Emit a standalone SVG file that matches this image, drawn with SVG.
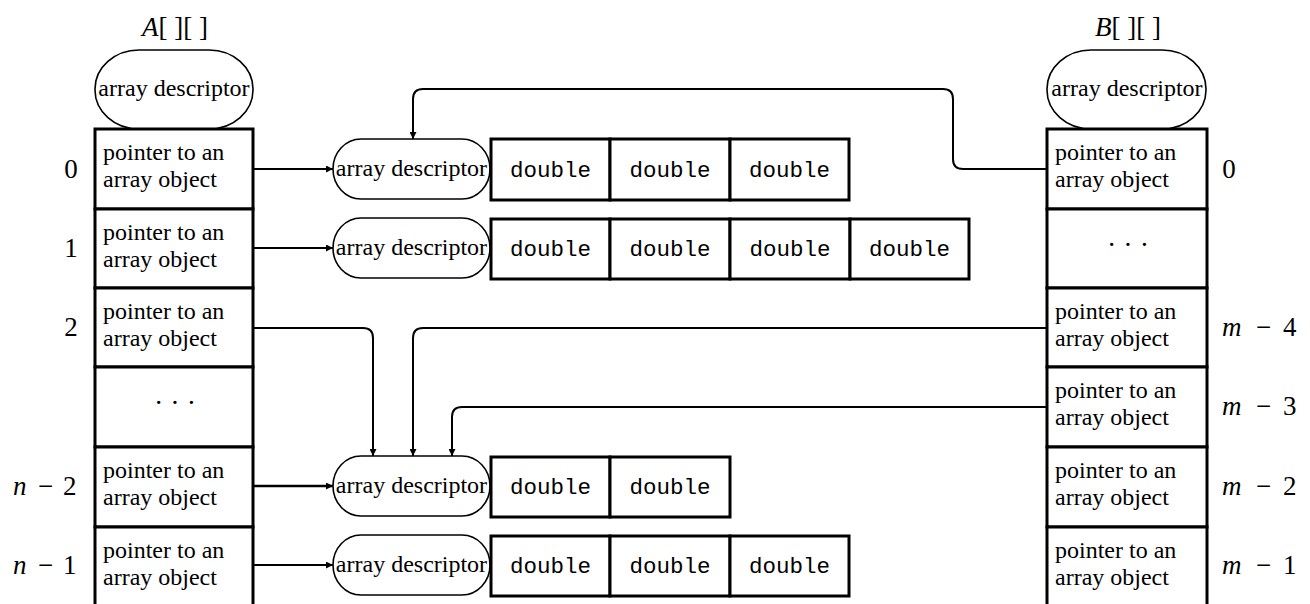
<svg xmlns="http://www.w3.org/2000/svg" width="1310" height="604" viewBox="0 0 1310 604">
<style>
.cell{fill:#fff;stroke:#000;stroke-width:3}
.desc{fill:#fff;stroke:#000;stroke-width:1.6}
.t,.tc,.lbl,.lc,.dots{font-family:"Liberation Serif","Times New Roman",Tinos,"DejaVu Serif",serif;fill:#000}
.t,.tc{font-size:24px}
.tc,.lc,.dots{text-anchor:middle}
.lbl,.lc{font-size:27px}
.dots{font-size:28px}
.mono{font-family:"Liberation Mono","Courier New",Cousine,"DejaVu Sans Mono",monospace;font-size:22.5px;fill:#000;text-anchor:middle}
.conn{fill:none;stroke:#000;stroke-width:2;marker-end:url(#ah)}
.it{font-style:italic}
</style>
<defs>
<marker id="ah" viewBox="0 0 10 10" refX="10" refY="5" markerUnits="userSpaceOnUse" markerWidth="10" markerHeight="7" orient="auto">
<path d="M0,0 L10,5 L0,10 z" fill="#000"/>
</marker>
</defs>

<!-- Titles -->
<text class="lc" x="175" y="36"><tspan class="it">A</tspan>[ ][ ]</text>
<text class="lc" x="1128" y="36"><tspan class="it">B</tspan>[ ][ ]</text>

<!-- A array -->
<g id="A-desc"><rect class="desc" x="95" y="50" width="158" height="79" rx="44" ry="39"/><text class="tc" x="174" y="96">array descriptor</text></g>
<g id="A-0"><rect class="cell" x="95" y="129" width="158" height="80"/><text class="t" x="103" y="160">pointer to an</text><text class="t" x="103" y="187">array object</text><text class="lc" x="71" y="178">0</text></g>
<g id="A-1"><rect class="cell" x="95" y="209" width="158" height="79"/><text class="t" x="103" y="240">pointer to an</text><text class="t" x="103" y="267">array object</text><text class="lc" x="71" y="257">1</text></g>
<g id="A-2"><rect class="cell" x="95" y="288" width="158" height="79"/><text class="t" x="103" y="319">pointer to an</text><text class="t" x="103" y="346">array object</text><text class="lc" x="71" y="336">2</text></g>
<g id="A-dots"><rect class="cell" x="95" y="367" width="158" height="80"/><text class="dots" x="175" y="412">· · ·</text></g>
<g id="A-n2"><rect class="cell" x="95" y="447" width="158" height="80"/><text class="t" x="103" y="478">pointer to an</text><text class="t" x="103" y="505">array object</text><text class="lbl" y="495"><tspan class="it" x="13">n</tspan><tspan x="38">−</tspan><tspan x="63">2</tspan></text></g>
<g id="A-n1"><rect class="cell" x="95" y="527" width="158" height="82"/><text class="t" x="103" y="558">pointer to an</text><text class="t" x="103" y="585">array object</text><text class="lbl" y="574"><tspan class="it" x="13">n</tspan><tspan x="38">−</tspan><tspan x="63">1</tspan></text></g>

<!-- B array -->
<g id="B-desc"><rect class="desc" x="1047" y="50" width="159" height="79" rx="44" ry="39"/><text class="tc" x="1127" y="96">array descriptor</text></g>
<g id="B-0"><rect class="cell" x="1047" y="129" width="160" height="80"/><text class="t" x="1055" y="160">pointer to an</text><text class="t" x="1055" y="187">array object</text><text class="lc" x="1229" y="178">0</text></g>
<g id="B-dots"><rect class="cell" x="1047" y="209" width="160" height="79"/><text class="dots" x="1128" y="254">· · ·</text></g>
<g id="B-m4"><rect class="cell" x="1047" y="288" width="160" height="79"/><text class="t" x="1055" y="319">pointer to an</text><text class="t" x="1055" y="346">array object</text><text class="lbl" y="336"><tspan class="it" x="1222">m</tspan><tspan x="1256">−</tspan><tspan x="1283">4</tspan></text></g>
<g id="B-m3"><rect class="cell" x="1047" y="367" width="160" height="80"/><text class="t" x="1055" y="398">pointer to an</text><text class="t" x="1055" y="425">array object</text><text class="lbl" y="415"><tspan class="it" x="1222">m</tspan><tspan x="1256">−</tspan><tspan x="1283">3</tspan></text></g>
<g id="B-m2"><rect class="cell" x="1047" y="447" width="160" height="80"/><text class="t" x="1055" y="478">pointer to an</text><text class="t" x="1055" y="505">array object</text><text class="lbl" y="495"><tspan class="it" x="1222">m</tspan><tspan x="1256">−</tspan><tspan x="1283">2</tspan></text></g>
<g id="B-m1"><rect class="cell" x="1047" y="527" width="160" height="82"/><text class="t" x="1055" y="558">pointer to an</text><text class="t" x="1055" y="585">array object</text><text class="lbl" y="574"><tspan class="it" x="1222">m</tspan><tspan x="1256">−</tspan><tspan x="1283">1</tspan></text></g>

<!-- Row 0 object -->
<g id="obj0">
<rect class="desc" x="333" y="139" width="157" height="60" rx="28" ry="30"/><text class="tc" x="411.5" y="176">array descriptor</text>
<rect class="cell" x="491" y="139" width="119" height="61"/><text class="mono" x="550.5" y="177">double</text>
<rect class="cell" x="610" y="139" width="120" height="61"/><text class="mono" x="670" y="177">double</text>
<rect class="cell" x="730" y="139" width="119" height="61"/><text class="mono" x="789.5" y="177">double</text>
</g>
<!-- Row 1 object -->
<g id="obj1">
<rect class="desc" x="333" y="218" width="157" height="60" rx="28" ry="30"/><text class="tc" x="411.5" y="255">array descriptor</text>
<rect class="cell" x="491" y="219" width="119" height="60"/><text class="mono" x="550.5" y="256">double</text>
<rect class="cell" x="610" y="219" width="120" height="60"/><text class="mono" x="670" y="256">double</text>
<rect class="cell" x="730" y="219" width="120" height="60"/><text class="mono" x="790" y="256">double</text>
<rect class="cell" x="850" y="219" width="119" height="60"/><text class="mono" x="909.5" y="256">double</text>
</g>
<!-- Row n-2 shared object -->
<g id="objShared">
<rect class="desc" x="333" y="456" width="157" height="60" rx="28" ry="30"/><text class="tc" x="411.5" y="493">array descriptor</text>
<rect class="cell" x="491" y="457" width="119" height="60"/><text class="mono" x="550.5" y="494">double</text>
<rect class="cell" x="610" y="457" width="120" height="60"/><text class="mono" x="670" y="494">double</text>
</g>
<!-- Row n-1 object -->
<g id="objLast">
<rect class="desc" x="333" y="535" width="157" height="60" rx="28" ry="30"/><text class="tc" x="411.5" y="572">array descriptor</text>
<rect class="cell" x="491" y="536" width="119" height="60"/><text class="mono" x="550.5" y="573">double</text>
<rect class="cell" x="610" y="536" width="120" height="60"/><text class="mono" x="670" y="573">double</text>
<rect class="cell" x="730" y="536" width="119" height="60"/><text class="mono" x="789.5" y="573">double</text>
</g>

<!-- Connectors -->
<g id="connectors">
<path class="conn" d="M254,169 H333"/>
<path class="conn" d="M254,248 H333"/>
<path class="conn" d="M254,486 H333" style="stroke-width:2.6"/>
<path class="conn" d="M254,565 H333"/>
<path class="conn" d="M254,328 H363 Q373,328 373,338 V456"/>
<path class="conn" d="M1047,328 H423 Q413,328 413,338 V456"/>
<path class="conn" d="M1047,407 H462 Q452,407 452,417 V456"/>
<path class="conn" d="M1047,169 H963 Q953,169 953,159 V99 Q953,89 943,89 H423 Q413,89 413,99 V139"/>
</g>
</svg>
